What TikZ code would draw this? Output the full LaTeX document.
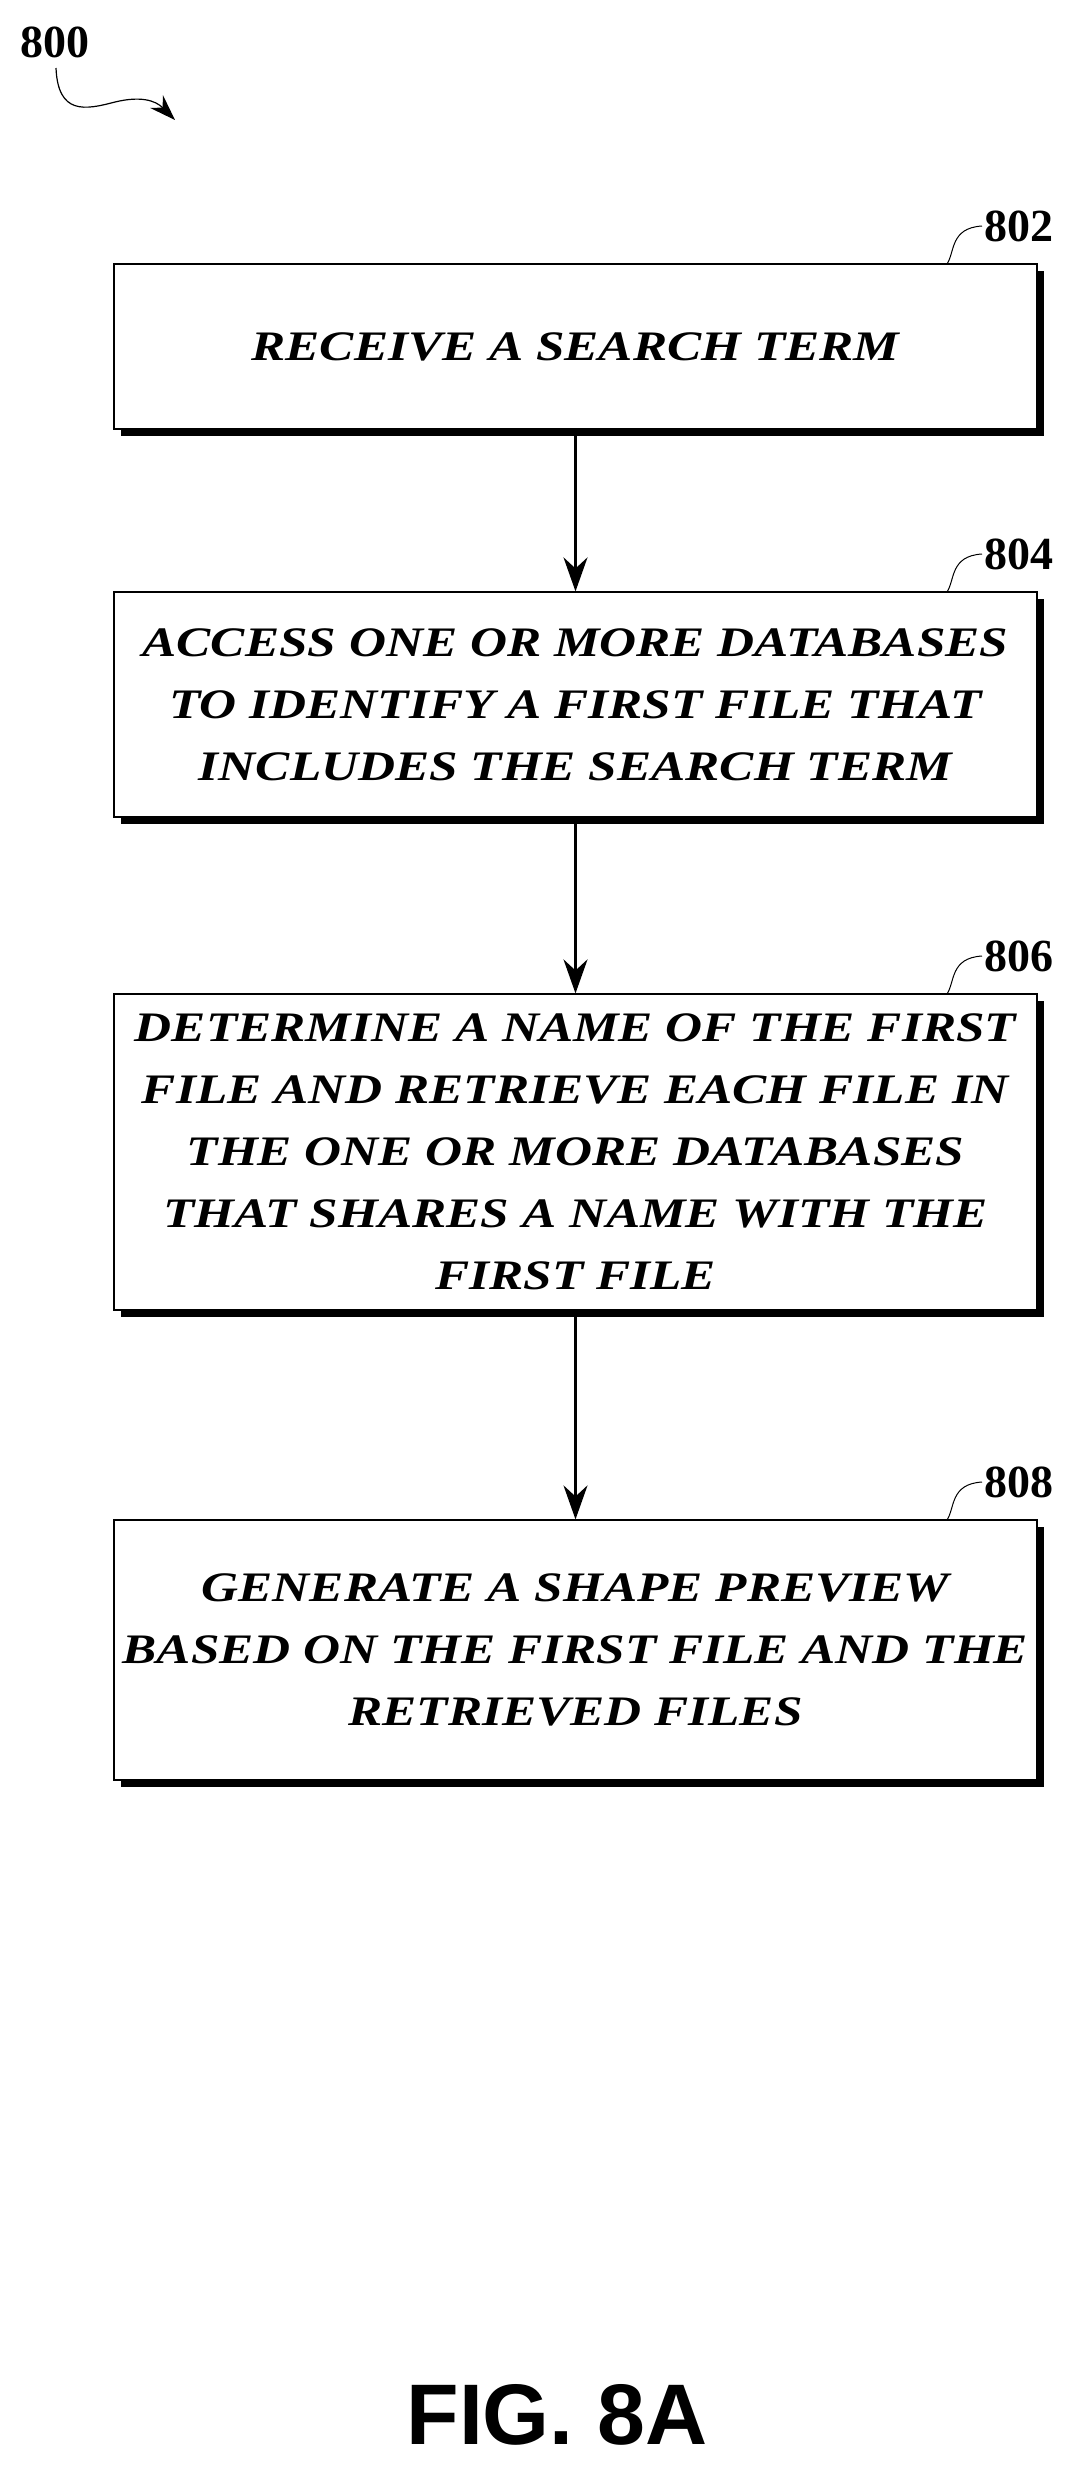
\documentclass[tikz,border=0pt]{standalone}
\usepackage{fontspec}
\setmainfont{Liberation Serif}
\setsansfont{Liberation Sans}
\newfontfamily\wideserif[FakeStretch=1.22]{Liberation Serif}
\usetikzlibrary{arrows.meta}
\begin{document}
\begin{tikzpicture}[x=1pt,y=-1pt,
  boxst/.style={draw,line width=1.2pt,fill=white,minimum width=923pt,align=center,
    font=\fontsize{42}{62}\wideserif\bfseries\itshape},
  arr/.style={line width=2.5pt,-{Stealth[length=34pt,width=24pt]}},
  lead/.style={line width=1pt},
  lab/.style={font=\fontsize{46}{50}\selectfont\bfseries}]
\useasboundingbox (0,0) rectangle (1089,2484);
\newcommand{\mybox}[4]{%
  \fill (121,#2+7) rectangle (1044,#3+7);
  \node[boxst,minimum height=#3-#2] (#1) at (575.5,{(#2+#3)/2}) {#4};}
\mybox{b1}{264}{429}{RECEIVE A SEARCH TERM}
\mybox{b2}{592}{817}{ACCESS ONE OR MORE DATABASES\\TO IDENTIFY A FIRST FILE THAT\\INCLUDES THE SEARCH TERM}
\mybox{b3}{994}{1310}{DETERMINE A NAME OF THE FIRST\\FILE AND RETRIEVE EACH FILE IN\\THE ONE OR MORE DATABASES\\THAT SHARES A NAME WITH THE\\FIRST FILE}
\mybox{b4}{1520}{1780}{GENERATE A SHAPE PREVIEW\\BASED ON THE FIRST FILE AND THE\\RETRIEVED FILES}
\draw[arr] (b1.south) -- (b2.north);
\draw[arr] (b2.south) -- (b3.north);
\draw[arr] (b3.south) -- (b4.north);
\foreach \b/\t/\y in {b1/802/264,b2/804/592,b3/806/994,b4/808/1520}{
  \coordinate (c\t) at (982,\y-38);
  \draw[lead] (947,\y) .. controls (955,\y-12) and (950,\y-36) .. (c\t);
  \node[lab,anchor=west,inner sep=2pt] (l\t) at (c\t) {\t};
}
\node[lab] (l800) at (55,42) {800};
\coordinate (t800) at (175,120);
\draw[line width=1.2pt,-{Stealth[length=26pt,width=18pt]}] (56,68) .. controls (58,115) and (85,110) .. (115,102) .. controls (140,96) and (155,100) .. (t800);
\node[font=\fontsize{86}{90}\selectfont\sffamily\bfseries] (fig) at (557,2415) {FIG. 8A};
\end{tikzpicture}
\end{document}
